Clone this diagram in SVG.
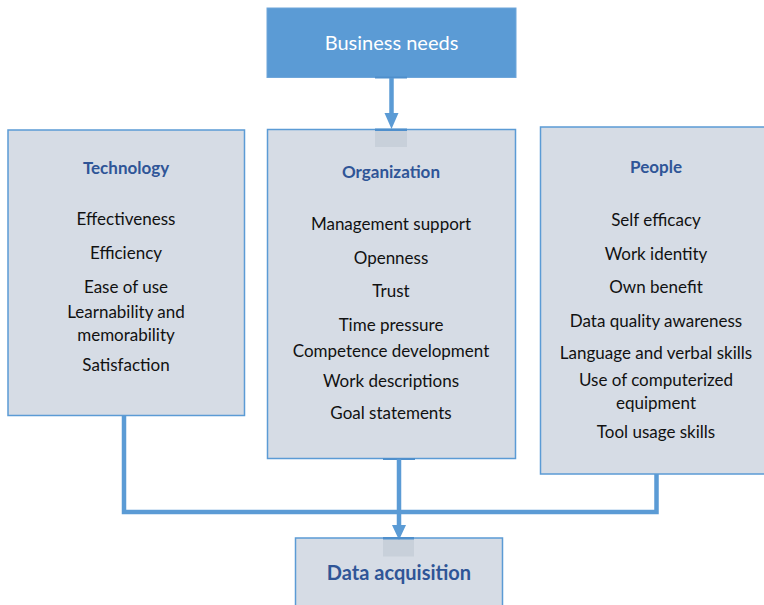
<svg xmlns="http://www.w3.org/2000/svg" width="764" height="605" viewBox="0 0 764 605">
<defs>
<style>
.box{fill:#d6dce5;stroke:#5b9bd5;stroke-width:1.5}
.top{fill:#5b9bd5;stroke:#6fa6da;stroke-width:1}
.t{font-family:Lato,"Liberation Sans",sans-serif;font-size:17px;fill:#111;text-anchor:middle}
.h{font-family:Lato,"Liberation Sans",sans-serif;font-size:17px;font-weight:bold;fill:#2f5597;text-anchor:middle}
.w{font-family:Lato,"Liberation Sans",sans-serif;font-size:20px;fill:#fff;text-anchor:middle}
.line{fill:none;stroke:#5b9bd5;stroke-width:4.5}
.shade{fill:#c8d0da}
.bar{fill:#4f8fcc}
</style>
</defs>
<g id="business-needs">
<rect class="top" x="267" y="8" width="249" height="69.5"/>
<text class="w" x="391.5" y="50">Business needs</text>
</g>
<g id="technology">
<rect class="box" x="8" y="130" width="236.5" height="285.5"/>
<text class="h" x="126" y="174">Technology</text>
<text class="t" x="126" y="225">Effectiveness</text>
<text class="t" x="126" y="259">Efficiency</text>
<text class="t" x="126" y="293">Ease of use</text>
<text class="t" x="126" y="318">Learnability and</text>
<text class="t" x="126" y="341">memorability</text>
<text class="t" x="126" y="371">Satisfaction</text>
</g>
<g id="organization">
<rect class="box" x="267.5" y="129.5" width="248" height="329"/>
<rect class="shade" x="375" y="131" width="32" height="16"/>
<text class="h" x="391" y="178">Organization</text>
<text class="t" x="391" y="230">Management support</text>
<text class="t" x="391" y="264">Openness</text>
<text class="t" x="391" y="297">Trust</text>
<text class="t" x="391" y="331">Time pressure</text>
<text class="t" x="391" y="357">Competence development</text>
<text class="t" x="391" y="387">Work descriptions</text>
<text class="t" x="391" y="419">Goal statements</text>
</g>
<g id="people">
<rect class="box" x="540.5" y="127" width="230" height="347"/>
<text class="h" x="656" y="173">People</text>
<text class="t" x="656" y="226">Self efficacy</text>
<text class="t" x="656" y="260">Work identity</text>
<text class="t" x="656" y="293">Own benefit</text>
<text class="t" x="656" y="327">Data quality awareness</text>
<text class="t" x="656" y="359">Language and verbal skills</text>
<text class="t" x="656" y="386">Use of computerized</text>
<text class="t" x="656" y="409">equipment</text>
<text class="t" x="656" y="438">Tool usage skills</text>
</g>
<g id="data-acquisition">
<rect class="box" x="295.5" y="538" width="207" height="80"/>
<rect class="shade" x="383" y="539.5" width="31" height="17"/>
<text class="h" x="399" y="580" style="font-size:20px">Data acquisition</text>
</g>
<g id="connectors">
<rect class="bar" x="375" y="76.5" width="32" height="2"/>
<line class="line" x1="391.5" y1="78" x2="391.5" y2="115"/>
<path d="M384.5,113 L398.5,113 L391.5,129 Z" fill="#5b9bd5"/>
<rect class="bar" x="375" y="128.5" width="32" height="2.5"/>
<rect class="bar" x="383" y="458" width="32" height="2"/>
<line class="line" x1="399" y1="459" x2="399" y2="527"/>
<path d="M392,525 L406,525 L399,540 Z" fill="#5b9bd5"/>
<rect class="bar" x="383" y="537" width="31" height="2.5"/>
<polyline class="line" points="124,416 124,512 656.5,512 656.5,474"/>
</g>
</svg>
